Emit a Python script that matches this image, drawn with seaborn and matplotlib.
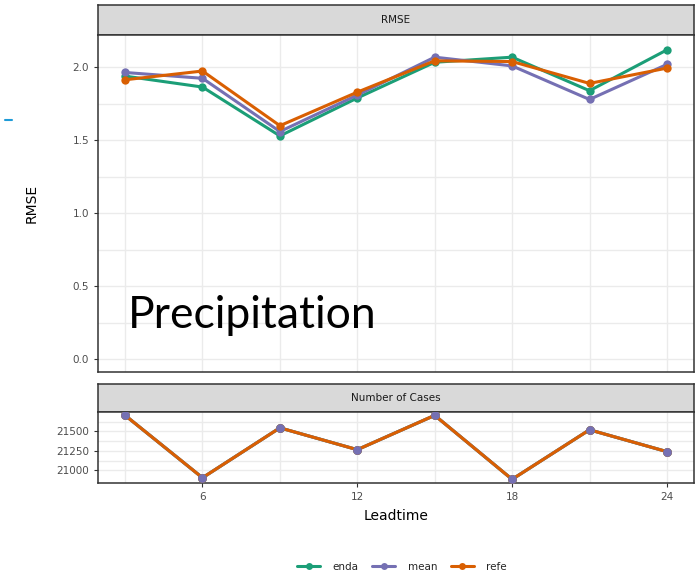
import numpy as np
import pandas as pd
import matplotlib
matplotlib.use("Agg")
import matplotlib.pyplot as plt
from matplotlib.lines import Line2D
import seaborn as sns

leadtime = [3, 6, 9, 12, 15, 18, 21, 24]
rmse_enda = [1.94, 1.865, 1.53, 1.79, 2.035, 2.07, 1.84, 2.12]
rmse_mean = [1.965, 1.925, 1.56, 1.81, 2.07, 2.01, 1.78, 2.02]
rmse_refe = [1.915, 1.975, 1.60, 1.83, 2.045, 2.04, 1.89, 1.995]
n_cases = [21705, 20905, 21545, 21265, 21705, 20885, 21520, 21240]

models = ["enda", "mean", "refe"]
palette = {"enda": "#1B9E77", "mean": "#7570B3", "refe": "#D95F02"}

rmse = pd.DataFrame({
    "Leadtime": leadtime * 3,
    "RMSE": rmse_enda + rmse_mean + rmse_refe,
    "model": np.repeat(models, len(leadtime)),
})
cases = pd.DataFrame({
    "Leadtime": leadtime * 3,
    "cases": n_cases * 3,
    "model": np.repeat(models, len(leadtime)),
})

sns.set_style("white")
plt.rcParams["font.family"] = ["DejaVu Sans"]

fig = plt.figure(figsize=(7.0, 5.77), dpi=100)
W, H = 700, 577


def frac(x0, y0, x1, y1):
    return [x0 / W, 1 - y1 / H, (x1 - x0) / W, (y1 - y0) / H]


grid_c = "#EBEBEB"
border_c = "#333333"
tick_c = "#4D4D4D"


def style_panel(ax):
    for s in ax.spines.values():
        s.set_color(border_c)
        s.set_linewidth(1.1)
    ax.set_facecolor("white")
    ax.grid(True, which="both", color=grid_c, linewidth=1.0)
    ax.set_axisbelow(True)
    ax.tick_params(axis="both", which="major", colors=border_c, length=3,
                   width=0.8, labelsize=7.5, labelcolor=tick_c, direction="out",
                   bottom=True, left=True)
    ax.tick_params(axis="both", which="minor", length=0)
    ax.set_xlim(1.95, 25.05)
    ax.set_xticks([6, 12, 18, 24])
    ax.set_xticks([3, 9, 15, 21], minor=True)


def strip(rect, label):
    sax = fig.add_axes(rect)
    sax.set_facecolor("#D9D9D9")
    sax.set_xticks([])
    sax.set_yticks([])
    for s in sax.spines.values():
        s.set_color(border_c)
        s.set_linewidth(1.1)
    sax.text(0.5, 0.5, label, ha="center", va="center", fontsize=7.5,
             color="#1A1A1A", transform=sax.transAxes)


# RMSE panel
strip(frac(98, 5, 694, 35), "RMSE")
ax1 = fig.add_axes(frac(98, 35, 694, 372))
sns.lineplot(data=rmse, x="Leadtime", y="RMSE", hue="model", palette=palette,
             hue_order=models, marker="o", markersize=6, markeredgewidth=0,
             linewidth=2.2, ax=ax1, legend=False)
style_panel(ax1)
ax1.set_ylim(-0.089, 2.222)
ax1.set_yticks([0.0, 0.5, 1.0, 1.5, 2.0])
ax1.set_yticklabels(["0.0", "0.5", "1.0", "1.5", "2.0"])
ax1.set_yticks([0.25, 0.75, 1.25, 1.75], minor=True)
ax1.tick_params(axis="x", which="both", bottom=False, labelbottom=False)
ax1.set_xlabel("")
ax1.set_ylabel("RMSE", fontsize=10, color="black", labelpad=24)
ax1.text(0.05, 0.13, "Precipitation", transform=ax1.transAxes,
         fontsize=32, family="Lato", color="black", ha="left", va="baseline")

# Number of cases panel
strip(frac(98, 384, 694, 412), "Number of Cases")
ax2 = fig.add_axes(frac(98, 412, 694, 483))
for m in models:
    sub = cases[cases["model"] == m]
    sns.lineplot(data=sub, x="Leadtime", y="cases", color=palette[m],
                 linewidth=2.2, ax=ax2, legend=False)
for m in ["enda", "refe", "mean"]:
    sub = cases[cases["model"] == m]
    sns.scatterplot(data=sub, x="Leadtime", y="cases", color=palette[m],
                    s=40, linewidth=0, ax=ax2, legend=False, zorder=3)
style_panel(ax2)
ax2.set_ylim(20838, 21748)
ax2.set_yticks([21000, 21250, 21500])
ax2.set_yticks([21125, 21375, 21625], minor=True)
ax2.set_xlabel("Leadtime", fontsize=10, color="black", labelpad=5)
ax2.set_ylabel("")

# legend
handles = [Line2D([0], [0], color=palette[m], marker="o", markersize=5,
                  linewidth=2.2, markeredgewidth=0) for m in models]
fig.legend(handles, models, loc="center", bbox_to_anchor=(402 / W, 1 - 567 / H),
           ncol=3, frameon=False, fontsize=7.5, handlelength=2.2,
           columnspacing=1.3, handletextpad=1.2)

# small accent dash at the left edge
fig.add_artist(Line2D([5 / W, 12 / W], [1 - 120 / H, 1 - 120 / H],
                      color="#1E9BD7", linewidth=1.5))

fig.savefig("out.png", dpi=100)
